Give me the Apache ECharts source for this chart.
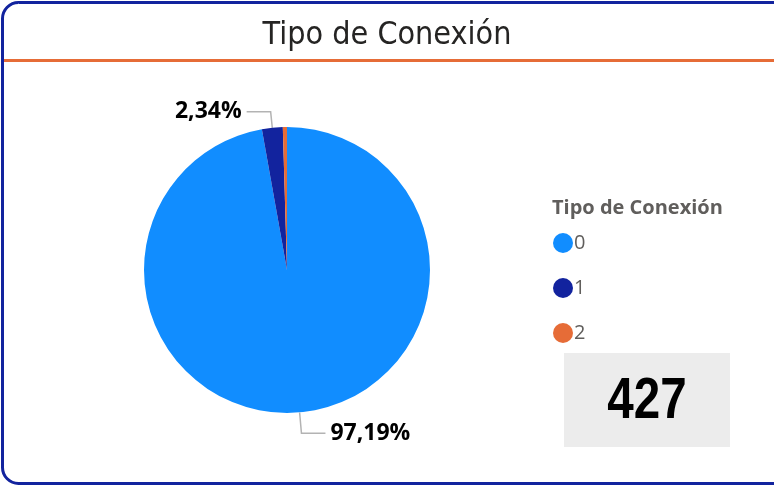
<!DOCTYPE html>
<html>
<head>
<meta charset="utf-8">
<script src="https://cdn.jsdelivr.net/npm/echarts@6/dist/echarts.min.js"></script>
<style>
  html, body { margin: 0; padding: 0; background: #ffffff; }
  #container { width: 774px; height: 487px; }
</style>
</head>
<body>
<div id="container"></div>
<script>
// datos del grafico
var categorias = ['0', '1', '2'];
var valores = [415, 10, 2];
var colores = ['#118DFF', '#12239E', '#E66C37'];
var etiquetasVisibles = [true, true, false];
var largoLinea = [21, 16, 16];

var total = valores.reduce(function (a, b) { return a + b; }, 0);

var datos = categorias.map(function (c, i) {
    return {
        name: c,
        value: valores[i],
        itemStyle: { color: colores[i] },
        label: { show: etiquetasVisibles[i] },
        labelLine: { show: etiquetasVisibles[i], length: largoLinea[i] }
    };
});

var dom = document.getElementById('container');
var myChart = echarts.init(dom);
var option = {
    animation: false,
    title: [
        {
            text: 'Tipo de Conexión',
            left: 'center',
            top: 15,
            textStyle: { fontFamily: 'DejaVu Sans Condensed', fontSize: 32, fontWeight: 'normal', color: '#252423' }
        },
        {
            text: 'Tipo de Conexión',
            left: 552,
            top: 198,
            padding: 0,
            textStyle: { fontFamily: 'Open Sans', fontSize: 20, fontWeight: 'bold', color: '#605E5C' }
        }
    ],
    legend: {
        orient: 'vertical',
        left: 553,
        top: 233,
        padding: 0,
        icon: 'circle',
        itemWidth: 20,
        itemHeight: 20,
        itemGap: 25,
        data: categorias,
        textStyle: { fontFamily: 'Open Sans', fontSize: 20, color: '#605E5C', padding: [0, 0, 0, -4] }
    },
    graphic: [
        {
            type: 'rect',
            shape: { x: 2.5, y: 2.5, width: 820, height: 481, r: 16 },
            style: { fill: 'none', stroke: '#12239E', lineWidth: 3 }
        },
        {
            type: 'rect',
            shape: { x: 4, y: 59, width: 780, height: 3 },
            style: { fill: '#E66C37' }
        },
        {
            type: 'rect',
            shape: { x: 564, y: 353, width: 166, height: 94 },
            style: { fill: '#ECECEC' }
        },
        {
            type: 'text',
            x: 647,
            y: 402,
            scaleX: 0.82,
            style: {
                text: String(total),
                fontFamily: 'Liberation Sans',
                fontWeight: 'bold',
                fontSize: 58,
                fill: '#000000',
                align: 'center',
                verticalAlign: 'middle'
            }
        }
    ],
    series: [
        {
            name: 'Tipo de Conexión',
            type: 'pie',
            center: [287, 270],
            radius: 143,
            startAngle: 90,
            clockwise: true,
            data: datos,
            label: {
                position: 'outside',
                fontFamily: 'Open Sans',
                fontWeight: 'bold',
                fontSize: 23,
                color: '#000000',
                formatter: function (p) {
                    return (p.value / total * 100).toFixed(2).replace('.', ',') + '%';
                }
            },
            labelLine: {
                length2: 24,
                lineStyle: { color: '#B3B3B3', width: 1.5 }
            }
        }
    ]
};
if (option && typeof option === "object") {
    myChart.setOption(option, true);
}
</script>
</body>
</html>
